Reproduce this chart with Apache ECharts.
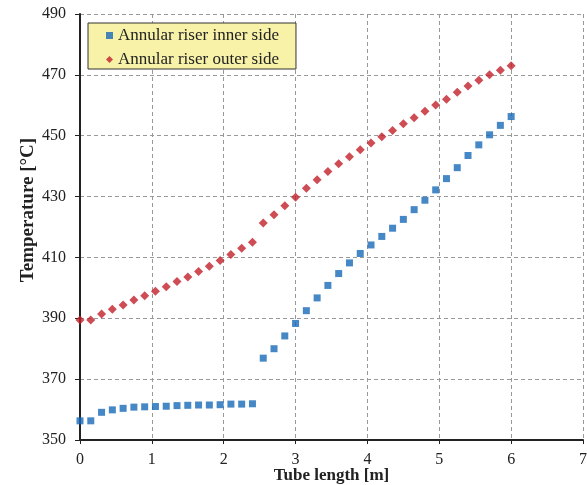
<!DOCTYPE html>
<html>
<head>
<meta charset="utf-8">
<script src="https://cdn.jsdelivr.net/npm/echarts@6/dist/echarts.min.js"></script>
<style>html,body{margin:0;padding:0;background:#fff;}#c{width:587px;height:485px;}</style>
</head>
<body>
<div id="c"></div>
<script>
// Tube length positions [m]
var innerX = [0,0.15,0.3,0.45,0.6,0.75,0.9,1.05,1.2,1.35,1.5,1.65,1.8,1.95,2.1,2.25,2.4,
  2.55,2.7,2.85,3.0,3.15,3.3,3.45,3.6,3.75,3.9,4.05,4.2,4.35,4.5,4.65,4.8,4.95,5.1,5.25,5.4,5.55,5.7,5.85,6.0];
var innerT = [356.3,356.3,359.1,359.9,360.4,360.8,360.9,361.0,361.1,361.3,361.4,361.5,361.5,361.6,361.8,361.8,361.9,
  376.9,380.0,384.2,388.3,392.5,396.7,400.8,404.7,408.2,411.3,414.1,416.9,419.6,422.5,425.7,428.8,432.2,435.9,439.5,443.5,447.0,450.3,453.4,456.3];
var outerX = innerX;
var outerT = [389.4,389.4,391.4,393.0,394.4,396.0,397.4,398.9,400.4,402.1,403.6,405.4,407.1,409.0,411.0,413.0,415.0,
  421.3,424.0,427.0,429.8,432.7,435.5,438.2,440.8,443.1,445.4,447.6,449.7,451.7,453.9,455.9,458.0,460.1,462.0,464.3,466.3,468.2,470.0,471.5,473.0];
var seriesNames = ['Annular riser inner side', 'Annular riser outer side'];
var xTitle = 'Tube length [m]';
var yTitle = 'Temperature [°C]';

function pairs(xs, ys){ return xs.map(function(x,i){ return [x, ys[i]]; }); }

var FONT = 'Liberation Serif';
var chart = echarts.init(document.getElementById('c'), null, {renderer:'canvas'});
chart.setOption({
  animation: false,
  backgroundColor: '#ffffff',
  grid: { left: 80, right: 4, top: 14, bottom: 45, containLabel: false, outerBoundsMode: 'none' },
  legend: {
    orient: 'vertical', left: 88, top: 23,
    backgroundColor: '#F7F2A8', borderColor: '#333', borderWidth: 1,
    padding: [4, 17, 1, 18], itemGap: 7, itemWidth: 7, itemHeight: 7,
    textStyle: { fontFamily: FONT, fontSize: 17, color: '#222' },
    data: [
      { name: seriesNames[0], icon: 'rect' },
      { name: seriesNames[1], icon: 'diamond' }
    ]
  },
  xAxis: {
    type: 'value', min: 0, max: 7, interval: 1,
    name: xTitle, nameLocation: 'middle', nameGap: 27, nameMoveOverlap: false,
    nameTextStyle: { fontFamily: FONT, fontSize: 17, fontWeight: 'bold', color: '#222' },
    axisLine: { show: true, onZero: false, lineStyle: { color: '#222', width: 2 } },
    axisTick: { show: true, inside: false, length: 4, lineStyle: { color: '#222' } },
    axisLabel: { margin: 12, fontFamily: FONT, fontSize: 16, color: '#222' },
    splitLine: { show: true, lineStyle: { color: '#999', type: [4, 3], width: 1 } }
  },
  yAxis: {
    type: 'value', min: 350, max: 490, interval: 20,
    name: yTitle, nameLocation: 'middle', nameGap: 42, nameMoveOverlap: false,
    nameTextStyle: { fontFamily: FONT, fontSize: 19, fontWeight: 'bold', color: '#222', padding: [0, 0, 0, 34] },
    axisLine: { show: true, onZero: false, lineStyle: { color: '#222', width: 2 } },
    axisTick: { show: true, inside: false, length: 5, lineStyle: { color: '#222' } },
    axisLabel: { margin: 14, fontFamily: FONT, fontSize: 16, color: '#222' },
    splitLine: { show: true, lineStyle: { color: '#999', type: [4, 3], width: 1 } }
  },
  series: [
    { name: seriesNames[0], type: 'scatter', symbol: 'rect', symbolSize: 7,
      itemStyle: { color: '#1869B8' }, data: pairs(innerX, innerT), z: 3 },
    { name: seriesNames[1], type: 'scatter', symbol: 'diamond', symbolSize: 9,
      itemStyle: { color: '#C21F28' }, data: pairs(outerX, outerT), z: 4 }
  ]
});
</script>
</body>
</html>
